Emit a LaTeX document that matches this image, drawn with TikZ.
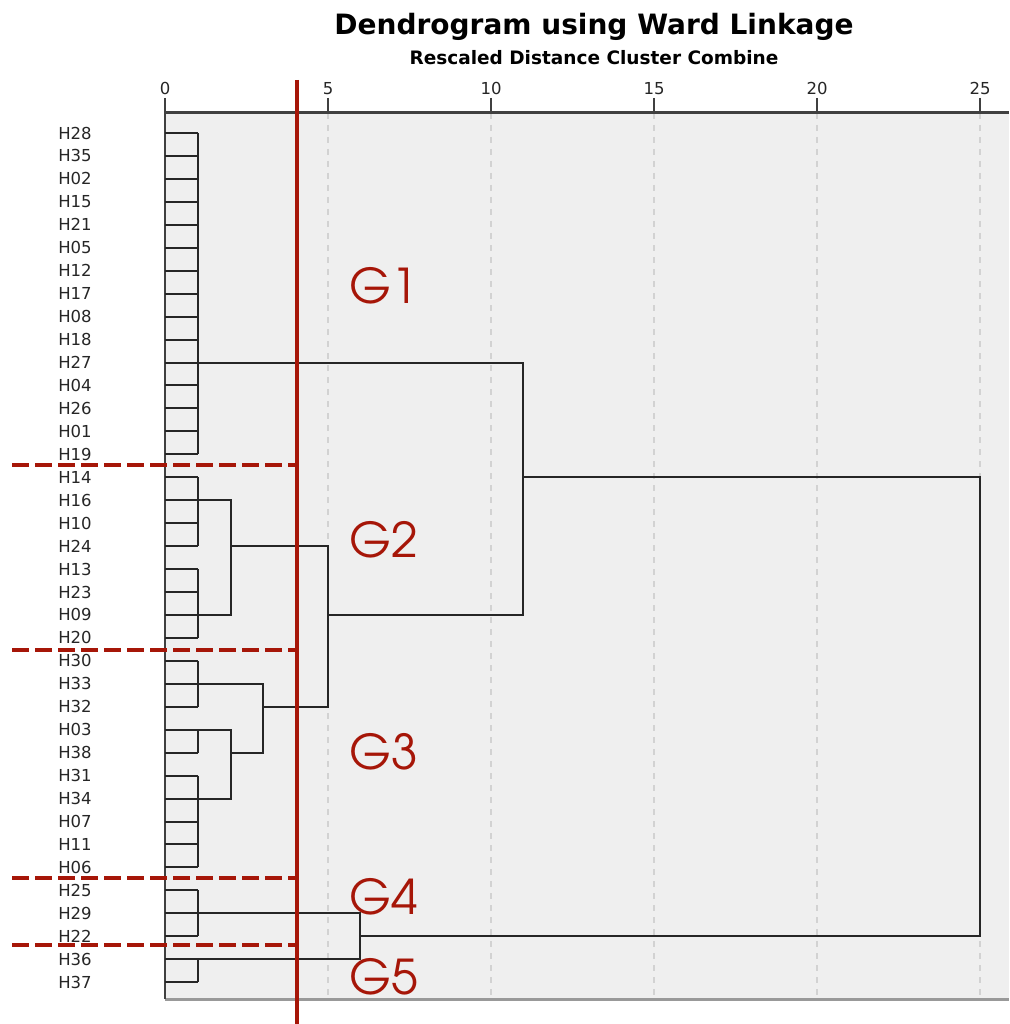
\documentclass[tikz,border=0pt]{standalone}
\usepackage{fontspec}
\setmainfont{DejaVu Sans}
\newfontfamily\grpfont{TeX Gyre Adventor}
\usetikzlibrary{calc}

\definecolor{cutred}{RGB}{166,22,8}
\definecolor{panel}{RGB}{239,239,239}

\begin{document}
\begin{tikzpicture}[x=1pt,y=-1pt,
  leaf/.style={font=\fontsize{16.5}{16.5}\selectfont,text=black!85,inner sep=0pt},
  tick/.style={font=\fontsize{16.5}{16.5}\selectfont,text=black!85,inner sep=0pt,anchor=base},
  tree/.style={line width=2pt,black!85},
  grid/.style={line width=1.5pt,gray!35,dash pattern=on 6pt off 6pt},
  cut/.style={line width=4pt,cutred},
  cutdash/.style={line width=4pt,cutred,dash pattern=on 17pt off 6pt},
  grp/.style={font=\grpfont\fontsize{48}{48}\selectfont,text=cutred,anchor=base west,inner sep=0pt}]
  \useasboundingbox (0,0) rectangle (1009,1024);
  \node[font=\bfseries\fontsize{28}{28}\selectfont,anchor=base,inner sep=0pt] (title) at (594,35) {Dendrogram using Ward Linkage};
  \node[font=\bfseries\fontsize{18.5}{18.5}\selectfont,anchor=base,inner sep=0pt] (subtitle) at (594,65) {Rescaled Distance Cluster Combine};
  \fill[panel] (165,113) rectangle (1009,999);
  \foreach \v in {5,10,...,25}
    \draw[grid] ({165+\v*32.6},113) -- ({165+\v*32.6},999);
  \foreach \v in {0,5,...,25} {
    \draw[line width=2pt,black!75] ({165+\v*32.6},98) -- ({165+\v*32.6},113);
    \node[tick] (t\v) at ({165+\v*32.6},95) {\v};
  }
  \draw[line width=3pt,black!75] (165,113) -- (1009,113);
  \draw[line width=3pt,gray!80] (165,999) -- (1009,999);
  \draw[line width=2pt,black!75] (165,113) -- (165,999);
  \coordinate (d0) at (165,113);
  \coordinate (d1) at (198,113);
  \coordinate (d2) at (231,113);
  \coordinate (d3) at (263,113);
  \coordinate (d5) at (328,113);
  \coordinate (d6) at (360,113);
  \coordinate (d11) at (523,113);
  \coordinate (d25) at (980,113);
  \foreach \lbl [count=\i from 0] in {H28,H35,H02,H15,H21,H05,H12,H17,H08,H18,H27,H04,H26,H01,H19,
      H14,H16,H10,H24,H13,H23,H09,H20,H30,H33,H32,H03,H38,H31,H34,H07,H11,H06,H25,H29,H22,H36,H37} {
    \pgfmathsetmacro{\yy}{133+\i*22.95}
    \node[leaf] (\lbl) at (75,\yy) {\lbl};
    \draw[tree] (d0 |- \lbl) -- (d1 |- \lbl);
  }
  \foreach \a/\b in {H28/H19,H14/H24,H13/H20,H30/H32,H03/H38,H31/H06,H25/H22,H36/H37}
    \draw[tree] (d1 |- \a) -- (d1 |- \b);
  \draw[tree] (d1 |- H16) -- (d2 |- H16) -- (d2 |- H09) -- (d1 |- H09);
  \draw[tree] (d1 |- H03) -- (d2 |- H03) -- (d2 |- H34) -- (d1 |- H34);
  \draw[tree] (d1 |- H33) -- (d3 |- H33) -- (d3 |- H38) -- (d2 |- H38);
  \draw[tree] (d2 |- H24) -- (d5 |- H24) -- (d5 |- H32) -- (d3 |- H32);
  \draw[tree] (d1 |- H27) -- (d11 |- H27) -- (d11 |- H09) -- (d5 |- H09);
  \draw[tree] (d1 |- H29) -- (d6 |- H29) -- (d6 |- H36) -- (d1 |- H36);
  \draw[tree] (d11 |- H14) -- (d25 |- H14) -- (d25 |- H22) -- (d6 |- H22);
  \foreach \yy in {465,650,878,945}
    \draw[cutdash] (12,\yy) -- (297,\yy);
  \draw[cut] (297,80) -- (297,1024);
  \node[grp] (G1) at (349,303) {G1};
  \node[grp] (G2) at (349,557) {G2};
  \node[grp] (G3) at (349,769) {G3};
  \node[grp] (G4) at (349,914) {G4};
  \node[grp] (G5) at (349,994) {G5};
\end{tikzpicture}
\end{document}
